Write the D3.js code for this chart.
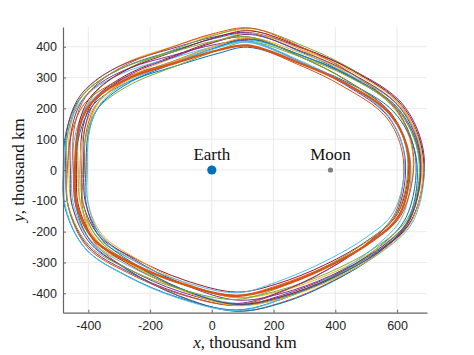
<!DOCTYPE html>
<html><head><meta charset="utf-8">
<script src="https://cdn.jsdelivr.net/npm/d3@7"></script>
<style>body{margin:0;background:#fff}svg{display:block}</style>
</head><body>
<svg id="c" width="474" height="355"></svg>
<script>
// Axis limits and ticks (thousand km)
const xDomain = [-482, 697];
const yDomain = [-463, 464];
const xTicks = [-400, -200, 0, 200, 400, 600];
const yTicks = [-400, -300, -200, -100, 0, 100, 200, 300, 400];

// Centre line of the orbit band (thousand km), clockwise from the left
const bandX = [-443, -436, -404, -355, -258, -125, 15, 120, 290, 440, 590, 652, 620, 522, 380, 220, 80, -100, -262, -382, -438];
const bandY = [0, 120, 210, 262, 318, 364, 408, 426, 366, 295, 188, 40, -150, -247, -332, -398, -428, -385, -312, -232, -115];

// Each revolution: offset from the band centre (thousand km, outward +) at every band point
const revs = [
  [38,36,32,28,25,22,20,18,15,12,10,8,10,14,18,22,26,30,34,36,38],
  [-30,-28,-25,-20,-15,-10,-5,0,5,10,15,20,25,28,30,32,30,25,15,0,-18],
  [20,25,30,34,36,35,32,28,22,15,8,0,-8,-15,-20,-22,-20,-15,-5,5,14],
  [30,34,36,36,34,30,25,20,28,34,38,36,30,22,15,10,12,16,20,24,27],
  [-10,-5,0,8,16,24,30,34,36,34,30,24,16,8,0,-8,-14,-18,-20,-18,-14],
  [10,5,0,-5,-10,-12,-10,-5,5,15,25,33,36,32,25,15,5,0,2,6,9],
  [-20,-15,-10,-5,0,5,10,5,0,-5,-10,-15,-20,-25,-28,-30,-32,-30,-28,-25,-22],
  [0,-8,-15,-20,-25,-28,-30,-28,-20,-10,0,10,20,28,32,34,30,24,16,8,3],
  [25,18,10,0,-8,-15,-20,-24,-26,-28,-30,-32,-28,-20,-10,0,10,18,24,28,27],
  [-38,-34,-28,-20,-10,0,10,18,24,28,30,28,22,14,6,-4,-14,-22,-30,-35,-38],
  [15,20,22,20,15,8,0,-8,-15,-20,-24,-26,-24,-18,-10,-2,5,10,12,13,14],
  [-25,-30,-34,-36,-34,-28,-20,-10,0,8,14,18,20,20,18,14,8,0,-8,-16,-22],
  [35,30,24,16,8,0,-6,-12,-16,-18,-16,-10,-2,6,14,22,28,32,35,36,36],
  [-5,0,5,10,14,18,22,26,30,32,34,33,30,26,20,14,8,2,-2,-5,-6],
  [-35,-36,-35,-32,-26,-18,-10,-2,6,12,18,22,24,24,22,18,10,0,-12,-24,-32],
  [5,12,18,24,30,34,36,35,30,22,12,2,-8,-16,-22,-24,-22,-16,-8,-2,2],
  [-15,-20,-22,-22,-18,-12,-4,4,12,20,26,30,32,30,26,20,12,4,-4,-10,-14],
  [-28,-22,-16,-10,-4,2,8,14,18,22,24,24,22,18,12,4,-6,-16,-24,-30,-30],
  [28,30,30,28,24,18,12,6,0,-6,-12,-18,-22,-24,-22,-16,-8,2,12,20,26],
  [-40,-38,-34,-28,-22,-16,-12,-10,-12,-16,-22,-28,-34,-36,-38,-36,-30,-24,-20,-30,-38]
];
// Nominal orbit (thick line)
const nominal = [0,-2,-6,-10,-14,-18,-20,-22,-20,-16,-14,-13,-13,-15,-18,-19,-19,-16,-10,-5,-1];

const colors = ["#0072BD","#D95319","#EDB120","#7E2F8E","#77AC30","#4DBEEE","#A2142F"];

const bodies = [{name:"Earth", x:0, y:0, r:4.6, color:"#0072BD"},
                {name:"Moon", x:384.4, y:0, r:2.6, color:"#808080"}];

const m = {left:63, right:427, top:27, bottom:312.7};
const svg = d3.select("#c");
const x = d3.scaleLinear().domain(xDomain).range([m.left, m.right]);
const y = d3.scaleLinear().domain(yDomain).range([m.bottom, m.top]);

// grid
const grid = svg.append("g");
grid.selectAll("line.gx").data(xTicks).join("line")
  .attr("x1", d=>x(d)).attr("x2", d=>x(d)).attr("y1", m.top).attr("y2", m.bottom)
  .attr("stroke", "#e6e6e6").attr("stroke-width", 0.8);
grid.selectAll("line.gy").data(yTicks).join("line")
  .attr("y1", d=>y(d)).attr("y2", d=>y(d)).attr("x1", m.left).attr("x2", m.right)
  .attr("stroke", "#e6e6e6").attr("stroke-width", 0.8);

// normals of the band centre line
const n = bandX.length;
const normals = bandX.map((_, i) => {
  const a = (i - 1 + n) % n, b = (i + 1) % n;
  const tx = bandX[b] - bandX[a], ty = bandY[b] - bandY[a];
  const L = Math.hypot(tx, ty);
  return [-ty / L, tx / L];
});
function pts(off) {
  return bandX.map((bx, i) => [bx + normals[i][0] * off[i], bandY[i] + normals[i][1] * off[i]]);
}
const line = d3.line().x(d=>x(d[0])).y(d=>y(d[1])).curve(d3.curveCatmullRomClosed.alpha(0.5));

const orbits = svg.append("g").attr("fill", "none");
revs.forEach((off, k) => {
  orbits.append("path").attr("d", line(pts(off)))
    .attr("stroke", colors[k % colors.length]).attr("stroke-width", 1);
});
orbits.append("path").attr("d", line(pts(nominal)))
  .attr("stroke", "#D95319").attr("stroke-width", 2.2);

// axes
const axCol = "#666";
const fmt = d => String(d);
const xAxis = d3.axisBottom(x).tickValues(xTicks).tickFormat(fmt).tickSizeInner(-3).tickSizeOuter(0).tickPadding(8);
const yAxis = d3.axisLeft(y).tickValues(yTicks).tickFormat(fmt).tickSizeInner(-3).tickSizeOuter(0).tickPadding(6);
const gx = svg.append("g").attr("transform", `translate(0,${m.bottom})`).call(xAxis);
const gy = svg.append("g").attr("transform", `translate(${m.left},0)`).call(yAxis);
[gx, gy].forEach(g => {
  g.select(".domain").attr("stroke", axCol).attr("stroke-width", 1.2);
  g.selectAll(".tick line").attr("stroke", axCol);
  g.selectAll(".tick text").attr("fill", "#262626")
    .style("font-family", "'Liberation Sans', Arial, sans-serif").style("font-size", "12.5px");
});

// bodies
bodies.forEach(b => {
  svg.append("circle").attr("cx", x(b.x)).attr("cy", y(b.y)).attr("r", b.r).attr("fill", b.color);
  svg.append("text").attr("x", x(b.x)).attr("y", y(b.y) - 10).attr("text-anchor", "middle")
    .style("font-family", "'Liberation Serif', 'Times New Roman', serif").style("font-size", "17px")
    .attr("fill", "#111").text(b.name);
});

// axis titles
const xt = svg.append("text").attr("x", (m.left + m.right) / 2).attr("y", 348).attr("text-anchor", "middle")
  .style("font-family", "'Liberation Serif', 'Times New Roman', serif").style("font-size", "17px").attr("fill", "#111");
xt.append("tspan").style("font-style", "italic").text("x");
xt.append("tspan").text(", thousand km");
const yt = svg.append("text").attr("transform", `translate(24,${y(0)}) rotate(-90)`).attr("text-anchor", "middle")
  .style("font-family", "'Liberation Serif', 'Times New Roman', serif").style("font-size", "17px").attr("fill", "#111");
yt.append("tspan").style("font-style", "italic").text("y");
yt.append("tspan").text(", thousand km");
</script>
</body></html>
